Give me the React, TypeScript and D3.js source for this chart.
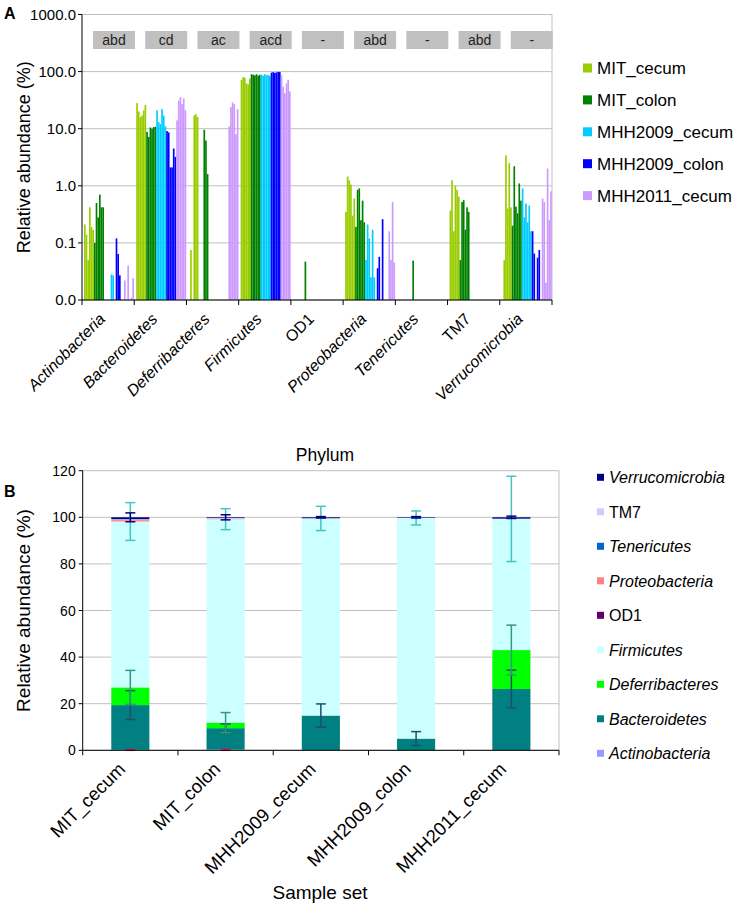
import React from 'react';
import * as d3 from 'd3';

// ---------- shared categories ----------
const phyla = ['Actinobacteria', 'Bacteroidetes', 'Deferribacteres', 'Firmicutes', 'OD1', 'Proteobacteria', 'Tenericutes', 'TM7', 'Verrucomicrobia'];
const nonItalicPhyla = ['OD1', 'TM7'];
const sampleGroups = ['MIT_cecum', 'MIT_colon', 'MHH2009_cecum', 'MHH2009_colon', 'MHH2011_cecum'];
const groupColors = ['#99CC00', '#008000', '#00CCFF', '#0000FF', '#CC99FF'];
const significance = ['abd', 'cd', 'ac', 'acd', '-', 'abd', '-', 'abd', '-'];
const logTicks = [0.01, 0.1, 1, 10, 100, 1000];
const linearTicks = [0, 20, 40, 60, 80, 100, 120];

// ---------- Panel A: per-sample relative abundance (rows follow `phyla`) ----------
const mitCecumSamples = [
  [0.21, 0.14, 0.05, 0.42, 0.19, 0.17],
  [28, 20, 16, 17, 21, 26],
  [0, 0.075, 0, 17, 18, 16],
  [72, 80, 78, 62, 60, 75],
  [0, 0, 0, 0, 0, 0],
  [0.35, 1.45, 1.25, 1.05, 0.3, 0.6],
  [0, 0, 0, 0, 0, 0],
  [0.37, 1.25, 0.16, 1.0, 0.85, 0.65],
  [0, 0.05, 3.4, 0.4, 2.5, 0.42],
];
const mitColonSamples = [
  [0.1, 0.5, 0.28, 0.7, 0.42, 0.42],
  [8.8, 7.2, 10.5, 10, 10.7, 10.8],
  [0, 0, 0, 9.6, 6.2, 1.6],
  [90, 88, 86, 90, 85, 88],
  [0, 0.047, 0, 0, 0, 0],
  [0.19, 0.85, 0.9, 0.25, 0.55, 0.23],
  [0, 0, 0, 0.049, 0, 0],
  [0.05, 0.52, 0.56, 0.17, 0.42, 0.35],
  [0.2, 2.2, 0.43, 0.33, 1.1, 0.55],
];
const mhh2009CecumSamples = [
  [0, 0, 0, 0, 0.028, 0.027],
  [21, 13, 12, 22, 17, 11],
  [0, 0, 0, 0, 0, 0],
  [88, 85, 90, 86, 88, 84],
  [0, 0, 0, 0, 0, 0],
  [0.05, 0.21, 0.12, 0.025, 0.17, 0.025],
  [0, 0, 0, 0, 0, 0],
  [0, 0, 0, 0, 0, 0],
  [0.9, 0.28, 0.49, 0.23, 0.45, 0.16],
];
const mhh2009ColonSamples = [
  [0, 0.12, 0.064, 0.027, 0, 0],
  [9.1, 8.6, 2.1, 2.1, 4.5, 3.2],
  [0, 0, 0, 0, 0, 0],
  [96, 98, 95, 97, 99, 98],
  [0, 0, 0, 0, 0, 0],
  [0, 0.036, 0.057, 0, 0.26, 0],
  [0, 0, 0, 0, 0, 0],
  [0, 0, 0, 0, 0, 0],
  [0.16, 0.065, 0, 0.055, 0.075, 0],
];
const mhh2011CecumSamples = [
  [0.022, 0, 0.04, 0, 0.011, 0.024],
  [14, 31, 36, 27, 34, 21],
  [11, 24, 29, 27, 8, 22],
  [86, 55, 42, 62, 72, 45],
  [0, 0, 0, 0, 0, 0],
  [0, 0, 0.16, 0.05, 0.52, 0.045],
  [0, 0, 0, 0, 0, 0],
  [0, 0, 0, 0, 0, 0],
  [0.6, 0.52, 0.02, 2.0, 0.25, 0.8],
];
const groupSamples = [mitCecumSamples, mitColonSamples, mhh2009CecumSamples, mhh2009ColonSamples, mhh2011CecumSamples];

// ---------- Panel B: mean composition and SD per sample set ----------
const meanActinobacteria = [0.2, 0.3, 0.01, 0.02, 0.02];
const meanBacteroidetes = [19.2, 9.2, 14.9, 5.0, 26.3];
const meanDeferribacteres = [7.6, 2.4, 0, 0, 16.7];
const meanFirmicutes = [71.2, 87.3, 84.6, 94.7, 56.3];
const meanOD1 = [0, 0.01, 0, 0, 0];
const meanProteobacteria = [0.6, 0.3, 0.1, 0.05, 0.1];
const meanTenericutes = [0, 0.01, 0, 0, 0];
const meanTM7 = [0.4, 0.2, 0, 0, 0];
const meanVerrucomicrobia = [0.8, 0.28, 0.39, 0.23, 0.58];
const sdActinobacteria = [0.3, 0.4, 0, 0, 0];
const sdBacteroidetes = [6.2, 1.8, 5.0, 3.0, 8.1];
const sdDeferribacteres = [7.3, 4.3, 0, 0, 10.7];
const sdFirmicutes = [8.1, 4.5, 5.2, 3.0, 18.3];
const sdVerrucomicrobia = [1.9, 1.1, 0.3, 0.3, 0.5];
const stackColors = ['#9999FF', '#008080', '#00FF00', '#CCFFFF', '#660066', '#FF8080', '#0066CC', '#CCCCFF', '#000080'];
const errorColors = ['#993366', '#1F4E6E', '#339977', '#44C4C4', null, null, null, null, '#000080'];

const FONT = "Arial, 'Liberation Sans', sans-serif";

function PanelA() {
  const left = 82, right = 552, top = 14.5, bottom = 300;
  const x = d3.scaleBand<string>().domain(phyla).range([left, right]);
  const inner = d3.scaleBand<number>().domain(d3.range(sampleGroups.length * 6)).range([2, 52]);
  const y = d3.scaleLog().domain([0.01, 1000]).range([bottom, top]);
  const fmt = d3.format('.1f');
  const bars: JSX.Element[] = [];
  phyla.forEach((p, pi) => {
    groupSamples.forEach((g, gi) => {
      g[pi].forEach((v, si) => {
        if (v <= 0.01) return;
        const xx = (x(p) as number) + (inner(gi * 6 + si) as number);
        bars.push(
          <rect key={`${pi}-${gi}-${si}`} x={xx} y={y(v)} width={inner.bandwidth()} height={bottom - y(v)} fill={groupColors[gi]} />
        );
      });
    });
  });
  return (
    <g fontFamily={FONT}>
      <text x={4} y={19} fontSize={16} fontWeight="bold">A</text>
      {logTicks.map((t) => (
        <line key={'g' + t} x1={left} x2={right} y1={y(t)} y2={y(t)} stroke="#C0C0C0" strokeWidth={1} />
      ))}
      <line x1={right} x2={right} y1={top} y2={bottom} stroke="#C0C0C0" />
      {significance.map((s, i) => (
        <g key={'s' + i}>
          <rect x={(x(phyla[i]) as number) + 11} y={31} width={42} height={18} fill="#C0C0C0" />
          <text x={(x(phyla[i]) as number) + 32} y={45} fontSize={14} textAnchor="middle" fill="#222">{s}</text>
        </g>
      ))}
      {bars}
      <line x1={left} x2={left} y1={top} y2={bottom} stroke="#000" />
      <line x1={left} x2={right} y1={bottom} y2={bottom} stroke="#000" />
      {logTicks.map((t) => (
        <g key={'t' + t}>
          <line x1={left - 4} x2={left} y1={y(t)} y2={y(t)} stroke="#000" />
          <text x={left - 6} y={y(t) + 5} fontSize={15} textAnchor="end">{fmt(t)}</text>
        </g>
      ))}
      {phyla.map((p, i) => (
        <line key={'xt' + i} x1={x(p) as number} x2={x(p) as number} y1={bottom} y2={bottom + 5} stroke="#000" />
      ))}
      <line x1={right} x2={right} y1={bottom} y2={bottom + 5} stroke="#000" />
      {phyla.map((p) => {
        const cx = (x(p) as number) + x.bandwidth() / 2;
        return (
          <text key={'xl' + p} transform={`translate(${cx - 2},${bottom + 20}) rotate(-45)`} textAnchor="end" fontSize={16}
            fontStyle={nonItalicPhyla.includes(p) ? 'normal' : 'italic'}>{p}</text>
        );
      })}
      <text x={325} y={461} fontSize={17.5} textAnchor="middle">Phylum</text>
      <text transform={`translate(30,${(top + bottom) / 2}) rotate(-90)`} fontSize={18} textAnchor="middle">Relative abundance (%)</text>
      {sampleGroups.map((g, i) => (
        <g key={'lg' + g}>
          <rect x={583} y={68 + i * 31.9 - 4.5} width={9} height={9} fill={groupColors[i]} />
          <text x={597} y={68 + i * 31.9 + 6} fontSize={17}>{g}</text>
        </g>
      ))}
    </g>
  );
}

function PanelB() {
  const left = 82.7, right = 559, top = 470.7, bottom = 750.3;
  const x = d3.scaleBand<string>().domain(sampleGroups).range([left, right]).paddingInner(0.6).paddingOuter(0.3);
  const step = (right - left) / sampleGroups.length;
  const y = d3.scaleLinear().domain([0, 120]).range([bottom, top]);
  const means = [meanActinobacteria, meanBacteroidetes, meanDeferribacteres, meanFirmicutes, meanOD1, meanProteobacteria, meanTenericutes, meanTM7, meanVerrucomicrobia];
  const sds = [sdActinobacteria, sdBacteroidetes, sdDeferribacteres, sdFirmicutes, null, null, null, null, sdVerrucomicrobia];
  const table = sampleGroups.map((g, gi) => {
    const row: any = { group: g };
    phyla.forEach((p, pi) => { row[p] = means[pi][gi]; });
    return row;
  });
  const stacked = d3.stack<any>().keys(phyla)(table);
  const legendOrder = [...phyla].reverse();
  return (
    <g fontFamily={FONT}>
      <text x={4} y={497} fontSize={16} fontWeight="bold">B</text>
      {linearTicks.map((t) => (
        <line key={'g' + t} x1={left} x2={right} y1={y(t)} y2={y(t)} stroke="#C0C0C0" />
      ))}
      <line x1={right} x2={right} y1={top} y2={bottom} stroke="#C0C0C0" />
      {stacked.map((s, si) => (
        <g key={'st' + si} fill={stackColors[si]}>
          {s.map((d, gi) => d[1] - d[0] > 0 ? (
            <rect key={gi} x={x(sampleGroups[gi]) as number} width={x.bandwidth()} y={y(d[1])} height={y(d[0]) - y(d[1])} />
          ) : null)}
        </g>
      ))}
      {stacked.map((s, si) => {
        const sd = sds[si];
        if (!sd) return null;
        return (
          <g key={'er' + si} stroke={errorColors[si] as string} strokeWidth={1.5}>
            {s.map((d, gi) => {
              if (sd[gi] <= 0) return null;
              const cx = (x(sampleGroups[gi]) as number) + x.bandwidth() / 2;
              const y1 = y(d[1] + sd[gi]);
              const y2 = y(Math.max(0, d[1] - sd[gi]));
              return (
                <g key={gi}>
                  <line x1={cx} x2={cx} y1={y1} y2={y2} />
                  <line x1={cx - 5} x2={cx + 5} y1={y1} y2={y1} />
                  <line x1={cx - 5} x2={cx + 5} y1={y2} y2={y2} />
                </g>
              );
            })}
          </g>
        );
      })}
      <line x1={left} x2={left} y1={top} y2={bottom} stroke="#000" />
      <line x1={left} x2={right} y1={bottom} y2={bottom} stroke="#000" />
      {linearTicks.map((t) => (
        <g key={'t' + t}>
          <line x1={left - 4} x2={left} y1={y(t)} y2={y(t)} stroke="#000" />
          <text x={left - 7} y={y(t) + 5} fontSize={14} textAnchor="end">{t}</text>
        </g>
      ))}
      {d3.range(sampleGroups.length + 1).map((i) => (
        <line key={'xt' + i} x1={left + i * step} x2={left + i * step} y1={bottom} y2={bottom + 5} stroke="#000" />
      ))}
      {sampleGroups.map((g) => {
        const cx = (x(g) as number) + x.bandwidth() / 2;
        return (
          <text key={'xl' + g} transform={`translate(${cx - 4},${bottom + 20}) rotate(-45)`} textAnchor="end" fontSize={18.5}>{g}</text>
        );
      })}
      <text x={320} y={899} fontSize={19} textAnchor="middle">Sample set</text>
      <text transform={`translate(30,${(top + bottom) / 2}) rotate(-90)`} fontSize={19} textAnchor="middle">Relative abundance (%)</text>
      {legendOrder.map((p, i) => {
        const ci = phyla.indexOf(p);
        const cy = 477.3 + i * 34.5;
        return (
          <g key={'lg' + p}>
            <rect x={597} y={cy - 3.5} width={7} height={7} fill={stackColors[ci]} />
            <text x={609} y={cy + 6} fontSize={16} fontStyle={nonItalicPhyla.includes(p) ? 'normal' : 'italic'}>{p}</text>
          </g>
        );
      })}
    </g>
  );
}

export default function App() {
  return (
    <svg width={736} height={908} style={{ position: 'absolute', left: 0, top: 0, background: '#fff' }}>
      <rect x={0} y={0} width={736} height={908} fill="#fff" />
      <PanelA />
      <PanelB />
    </svg>
  );
}
